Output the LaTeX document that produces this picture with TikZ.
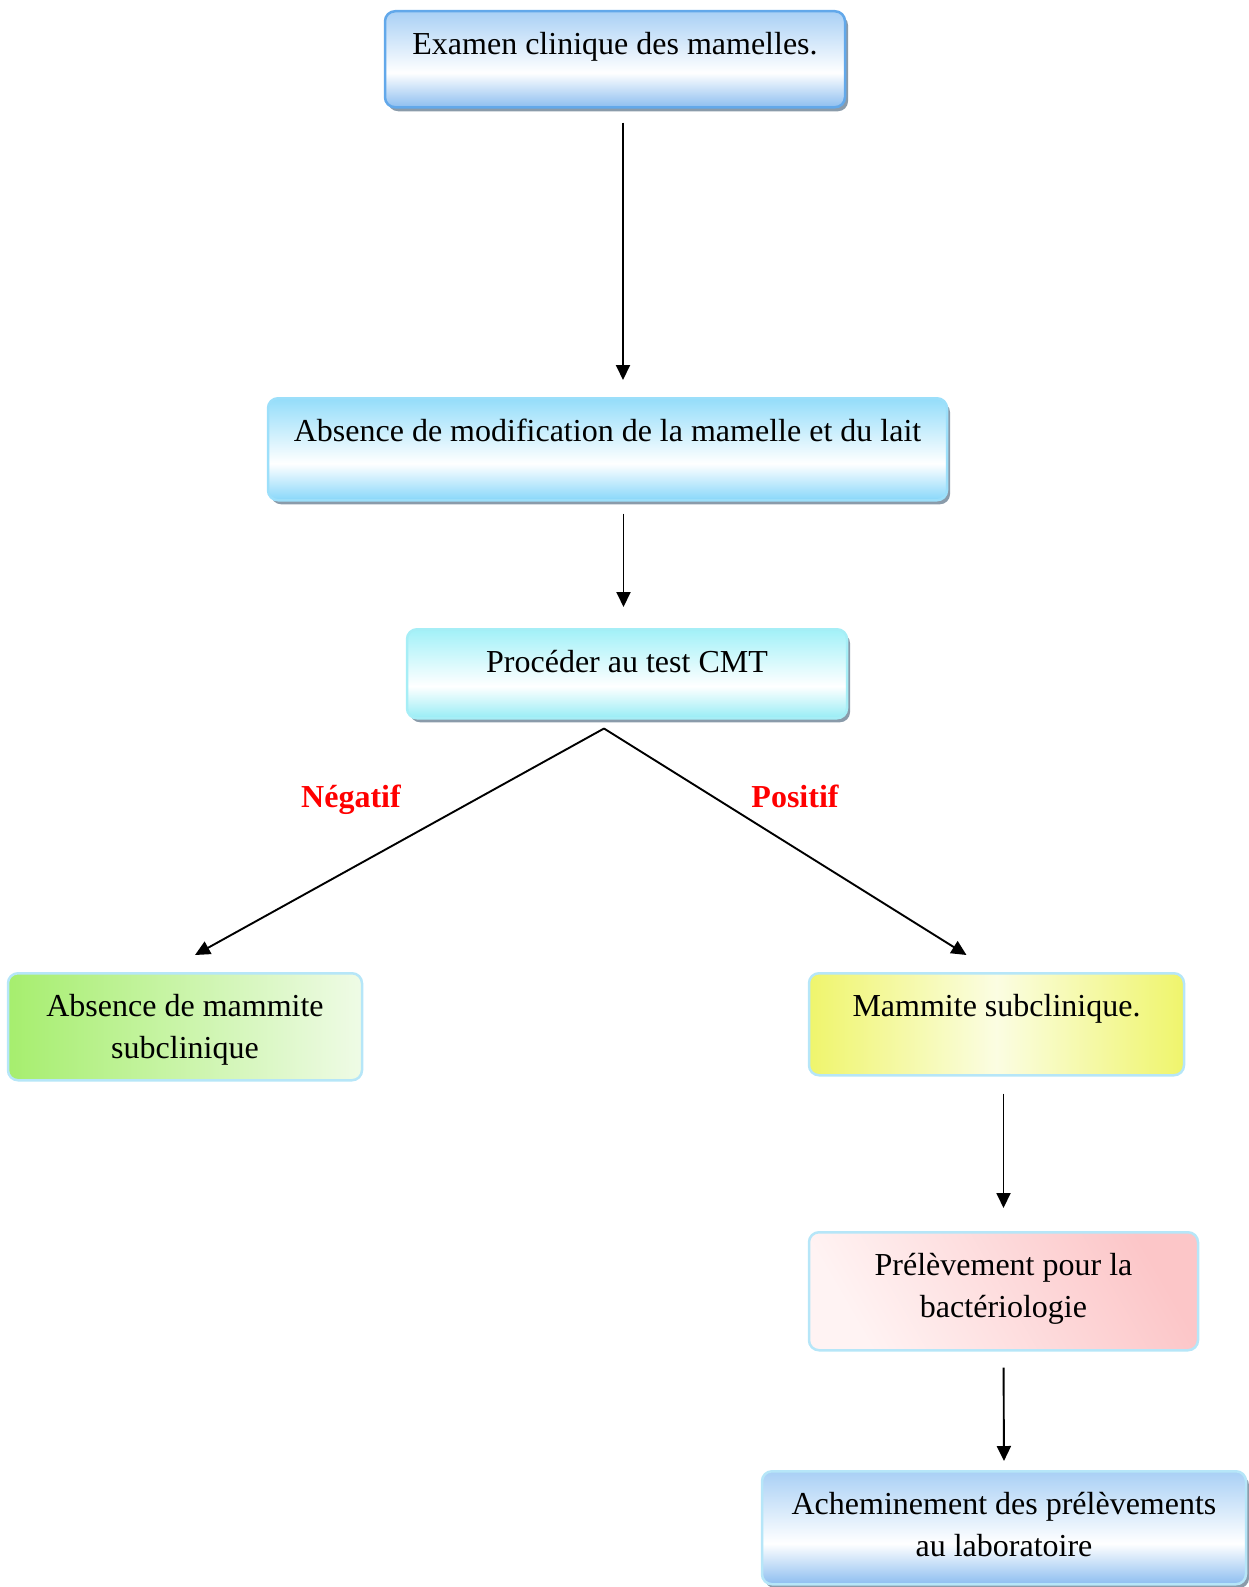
\documentclass[tikz,border=0pt]{standalone}
\usepackage{fontspec}
\setmainfont{Liberation Serif}
\usetikzlibrary{arrows.meta,shadows}

\definecolor{skyA}{HTML}{A9D0F5}
\definecolor{skyB}{HTML}{8DBEF0}
\definecolor{cyanA}{HTML}{94DDFA}
\definecolor{cyanB}{HTML}{88D7FA}
\definecolor{aquaA}{HTML}{A2F1F8}
\definecolor{aquaB}{HTML}{97EDF5}
\definecolor{blueline}{HTML}{62A8EA}
\definecolor{cyanline}{HTML}{9CDFFA}
\definecolor{aqualine}{HTML}{A6EEF6}
\definecolor{edgeblue}{HTML}{B6E6F8}
\definecolor{shadowgray}{HTML}{8A9BAA}
\definecolor{greenA}{HTML}{A6EE6E}
\definecolor{greenB}{HTML}{EFFBE6}
\definecolor{yellowA}{HTML}{EFF56C}
\definecolor{yellowB}{HTML}{FBFDE2}
\definecolor{pinkA}{HTML}{FCC6C8}
\definecolor{pinkB}{HTML}{FFF3F3}

\newcommand{\boxfont}{\fontsize{32}{42}\selectfont}

\pgfdeclareverticalshading{bluebar}{100bp}{color(0bp)=(skyB); color(25bp)=(skyB); color(43bp)=(white); color(75bp)=(skyA); color(100bp)=(skyA)}
\pgfdeclareverticalshading{cyanbar}{100bp}{color(0bp)=(cyanB); color(25bp)=(cyanB); color(43bp)=(white); color(75bp)=(cyanA); color(100bp)=(cyanA)}
\pgfdeclareverticalshading{aquabar}{100bp}{color(0bp)=(aquaB); color(25bp)=(aquaB); color(43bp)=(white); color(75bp)=(aquaA); color(100bp)=(aquaA)}

\tikzset{
  box/.style={anchor=north, rounded corners=10pt, line width=2.5pt,
    inner xsep=0pt, inner ysep=0pt, text height=43pt, align=center},
  twoline/.style={text height=85pt},
  glow/.style={drop shadow={shadow xshift=3pt, shadow yshift=-4pt,
    fill=shadowgray, opacity=1}},
  link/.style={-{Triangle[length=15pt,width=14pt]}, line width=1.9pt},
  verdict/.style={anchor=base, text=red, font=\boxfont\bfseries}
}

\begin{document}
\begin{tikzpicture}[x=1pt, y=-1pt, font=\boxfont]
    \useasboundingbox (0,0) rectangle (1249,1587);

    % main column
    \node[box, glow, draw=blueline, shading=bluebar, minimum width=460pt, text depth=53pt]
        (exam) at (615,10) {Examen clinique des mamelles.};
    \node[box, glow, draw=cyanline, shading=cyanbar, minimum width=679pt, text depth=59pt]
        (absmod) at (607.5,397) {Absence de modification de la mamelle et du lait};
    \node[box, glow, draw=aqualine, shading=aquabar, minimum width=440pt, text depth=46pt]
        (cmt) at (627,628) {Procéder au test CMT};

    % outcomes
    \node[box, twoline, draw=edgeblue, left color=greenA, right color=greenB, minimum width=354pt, text depth=22pt]
        (neg) at (185,972) {Absence de mammite\\subclinique};
    \node[box, draw=edgeblue, left color=yellowA, right color=yellowA, middle color=yellowB,
        minimum width=375pt, text depth=59pt]
        (subcl) at (996.5,972) {Mammite subclinique.};
    \node[box, twoline, draw=edgeblue, top color=pinkA, bottom color=pinkB, shading angle=-60,
        minimum width=389pt, text depth=33pt]
        (sample) at (1003.5,1231) {Prélèvement pour la\\bactériologie};
    \node[box, twoline, glow, draw=edgeblue, shading=bluebar, minimum width=484pt, text depth=28pt]
        (lab) at (1004,1470) {Acheminement des prélèvements\\au laboratoire};

    % labels on the branches
    \node[verdict] (neglbl) at (351,807) {Négatif};
    \node[verdict] (poslbl) at (795,807) {Positif};

    % connectors
    \draw[link, shorten <=14pt, shorten >=17pt]
        ([xshift=8pt]exam.south) -- ([xshift=8pt]exam.south |- absmod.north);
    \draw[link, shorten <=12pt, shorten >=21pt]
        ([xshift=16pt]absmod.south) -- ([xshift=16pt]absmod.south |- cmt.north);
    \coordinate (apex) at ([xshift=-23pt,yshift=-9pt]cmt.south);
    \draw[link] (apex) -- ([xshift=10pt,yshift=17pt]neg.north);
    \draw[link] (apex) -- ([xshift=-30pt,yshift=17pt]subcl.north);
    \draw[link, shorten <=17pt, shorten >=23pt] (sample.north |- subcl.south) -- (sample.north);
    \draw[link, shorten <=16pt, shorten >=9pt] (sample.south) -- (lab.north);
\end{tikzpicture}
\end{document}
